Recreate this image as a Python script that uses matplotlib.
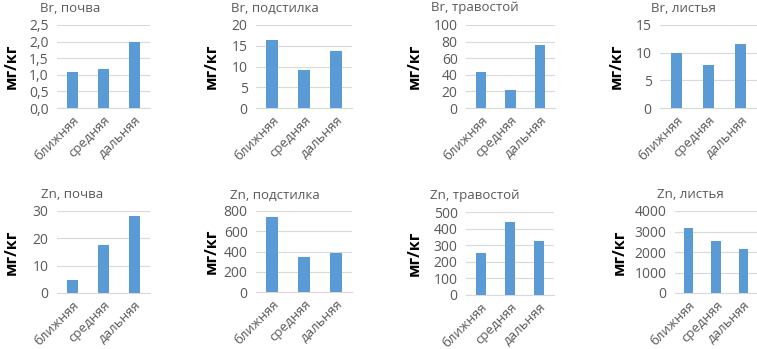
import matplotlib
matplotlib.use("Agg")
import matplotlib.pyplot as plt
from matplotlib.ticker import FuncFormatter

plt.rcParams['font.family'] = ['Open Sans', 'DejaVu Sans']

W, H = 757, 349

categories = ["ближняя", "средняя", "дальняя"]

titles = ["Br, почва", "Br, подстилка", "Br, травостой", "Br, листья",
          "Zn, почва", "Zn, подстилка", "Zn, травостой", "Zn, листья"]

br_soil = [1.07, 1.17, 2.0]
br_litter = [16.5, 9.1, 13.8]
br_grass = [43, 22, 76]
br_leaves = [10.0, 7.7, 11.6]
zn_soil = [4.7, 17.5, 28.3]
zn_litter = [745, 345, 385]
zn_grass = [255, 440, 325]
zn_leaves = [3180, 2550, 2150]

series = [br_soil, br_litter, br_grass, br_leaves,
          zn_soil, zn_litter, zn_grass, zn_leaves]

y_max = [2.5, 20, 100, 15, 30, 800, 500, 4000]
y_step = [0.5, 5, 20, 5, 10, 200, 100, 1000]
decimal_comma = [True, False, False, False, False, False, False, False]

# plot-area boxes in pixels: left, top, right, bottom
boxes = [(57, 25, 150, 108), (256, 25, 352, 108), (466, 25, 555, 108), (660, 25, 757, 108),
         (57, 211, 150, 293), (256, 211, 352, 292), (466, 212, 554, 295), (675, 211, 757, 293)]
title_pos = [(70, 8), (275, 8), (475, 8), (683, 8),
             (72, 195), (275, 195), (475, 195), (690, 195)]
ylabel_x = [12, 212, 415, 617, 12, 212, 415, 620]

bar_color = "#5B9BD5"
grid_color = "#D9D9D9"
text_color = "#595959"

fig = plt.figure(figsize=(W / 100, H / 100), dpi=100)
fig.patch.set_facecolor("white")

for i in range(8):
    x0, y0, x1, y1 = boxes[i]
    ax = fig.add_axes([x0 / W, 1 - y1 / H, (x1 - x0) / W, (y1 - y0) / H])
    ax.bar(range(3), series[i], width=0.35, color=bar_color, zorder=3)
    ax.set_xlim(-0.5, 2.5)
    ax.set_ylim(0, y_max[i])
    n = int(round(y_max[i] / y_step[i]))
    ticks = [k * y_step[i] for k in range(n + 1)]
    ax.set_yticks(ticks)
    if decimal_comma[i]:
        ax.yaxis.set_major_formatter(FuncFormatter(lambda v, p: f"{v:.1f}".replace(".", ",")))
    else:
        ax.yaxis.set_major_formatter(FuncFormatter(lambda v, p: f"{int(round(v))}"))
    ax.grid(axis="y", color=grid_color, linewidth=0.8, zorder=0)
    for s in ["top", "right", "left"]:
        ax.spines[s].set_visible(False)
    ax.spines["bottom"].set_color(grid_color)
    ax.spines["bottom"].set_linewidth(0.8)
    ax.tick_params(axis="both", length=0, colors=text_color, labelsize=10)
    ax.tick_params(axis="y", pad=6)
    ax.set_xticks(range(3))
    ax.set_xticklabels(categories, rotation=45, ha="right", rotation_mode="anchor",
                       fontsize=9.5, color=text_color)
    ax.tick_params(axis="x", pad=4)
    ax.set_facecolor("white")

    tx, ty = title_pos[i]
    fig.text(tx / W, 1 - ty / H, titles[i], ha="center", va="center",
             fontsize=9.5, color=text_color)
    fig.text(ylabel_x[i] / W, 1 - ((y0 + y1) / 2) / H, "мг/кг", rotation=90,
             ha="center", va="center", fontsize=11.5, fontweight="bold", color="black")

fig.savefig("out.png", dpi=100, facecolor="white")
